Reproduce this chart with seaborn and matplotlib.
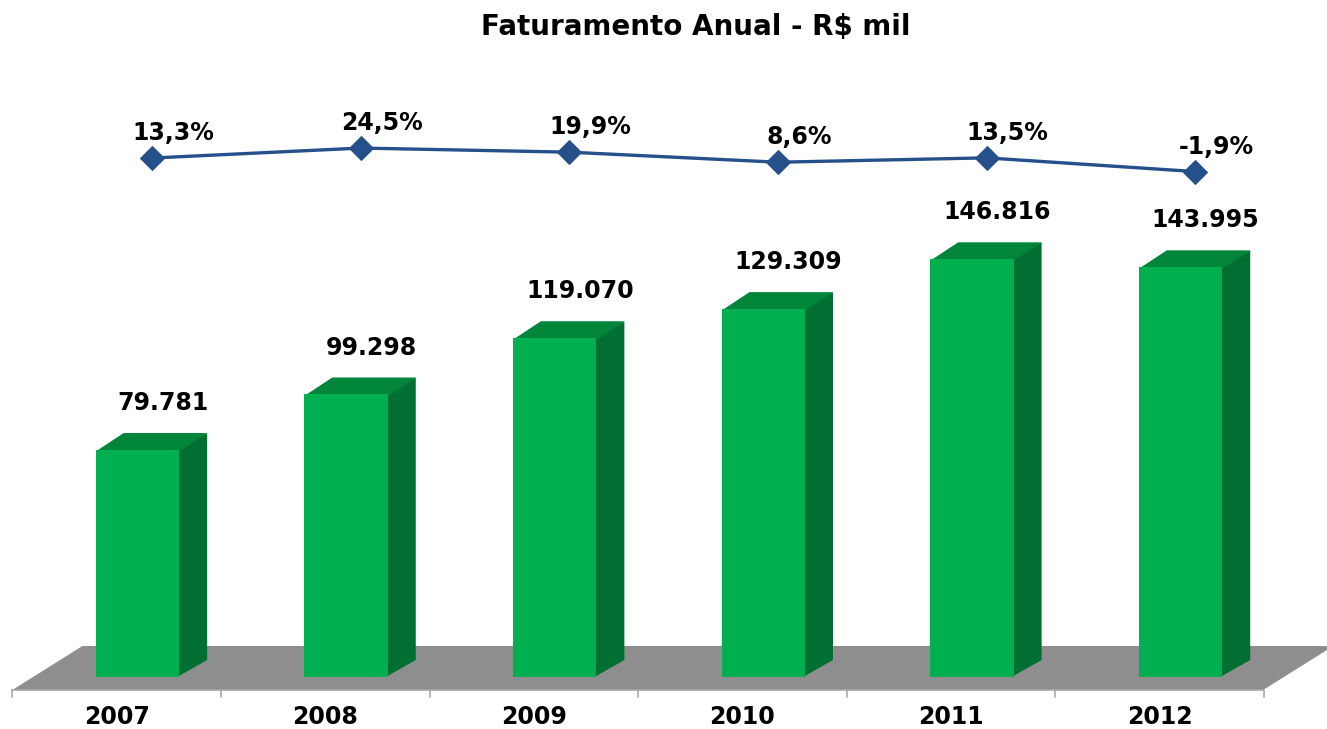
import numpy as np
import pandas as pd
import matplotlib
matplotlib.use("Agg")
import matplotlib.pyplot as plt
from matplotlib.patches import Polygon
import seaborn as sns

sns.set_style("white")
plt.rcParams['font.family'] = ['DejaVu Sans']
plt.rcParams['text.color'] = 'black'

years = ['2007', '2008', '2009', '2010', '2011', '2012']
revenue = [79781, 99298, 119070, 129309, 146816, 143995]
revenue_labels = ['79.781', '99.298', '119.070', '129.309', '146.816', '143.995']
growth = [13.3, 24.5, 19.9, 8.6, 13.5, -1.9]
growth_labels = ['13,3%', '24,5%', '19,9%', '8,6%', '13,5%', '-1,9%']

FRONT = '#00b050'
SIDE = '#006f31'
TOP = '#00853b'
FLOOR = '#8e8e8e'
LINE = '#25508a'

df = pd.DataFrame({'ano': years, 'faturamento': revenue})

fig = plt.figure(figsize=(13.27, 7.29), dpi=100)
ax = fig.add_axes([0, 0, 1, 1])

# pixel -> data mapping (category step ~208.6px, 1000 R$ ~2.845px)
ax.set_xlim(-0.659, 5.702)
ax.set_ylim(-18278, 237961)

# depth of the fake 3d
dx, dy = 0.134, 5975
fdx, fdy = 0.336, 15465

# floor
floor = Polygon([(-0.6, -4569), (5.396, -4569), (5.396 + fdx, -4569 + fdy), (-0.6 + fdx, -4569 + fdy)],
                closed=True, facecolor=FLOOR, edgecolor='none', zorder=0)
ax.add_patch(floor)
ax.plot([-0.6, 5.396], [-4569, -4569], color='#a8a8a8', lw=1.2, zorder=1)
for b in np.arange(7) - 0.6:
    ax.plot([b, b], [-4569, -7000], color='#a8a8a8', lw=1.2, zorder=1)

# front faces
sns.barplot(data=df, x='ano', y='faturamento', color=FRONT, width=0.4,
            saturation=1, linewidth=0, edgecolor='none', ax=ax, zorder=3)

for i, v in enumerate(revenue):
    x0, x1 = i - 0.2, i + 0.2
    # start the side a bit under the front face so no seam shows
    side = Polygon([(x1 - 0.01, 0), (x1 + dx, dy), (x1 + dx, v + dy), (x1 - 0.01, v)],
                   closed=True, facecolor=SIDE, edgecolor='none', zorder=2)
    top = Polygon([(x0, v - 500), (x1, v - 500), (x1 + dx, v + dy), (x0 + dx, v + dy)],
                  closed=True, facecolor=TOP, edgecolor='none', zorder=2)
    ax.add_patch(side)
    ax.add_patch(top)
    ax.text(i + 0.12, v + 16500, revenue_labels[i], ha='center', va='center',
            fontsize=17, fontweight='bold', color='black')
    ax.text(i - 0.1, -14100, years[i], ha='center', va='center',
            fontsize=17, fontweight='bold', color='black')

ax.set_xlim(-0.659, 5.702)
ax.set_ylim(-18278, 237961)
ax.axis('off')

# growth line on a second scale
ax2 = ax.twinx()
ax2.set_ylim(-628, 190.8)
line_df = pd.DataFrame({'pos': np.arange(len(years)) + 0.07, 'cresc': growth})
sns.lineplot(data=line_df, x='pos', y='cresc', ax=ax2, color=LINE, lw=2.4,
             marker='D', markersize=12, markeredgecolor=LINE)
for i, g in enumerate(growth):
    ax2.text(i + 0.17, g + 28, growth_labels[i], ha='center', va='center',
             fontsize=17, fontweight='bold', color='black')
ax2.set_xlim(-0.659, 5.702)
ax2.axis('off')

fig.text(0.524, 1 - 27 / 729, 'Faturamento Anual - R$ mil', ha='center', va='center',
         fontsize=20, fontweight='bold', color='black')

fig.savefig('out.png', dpi=100)
